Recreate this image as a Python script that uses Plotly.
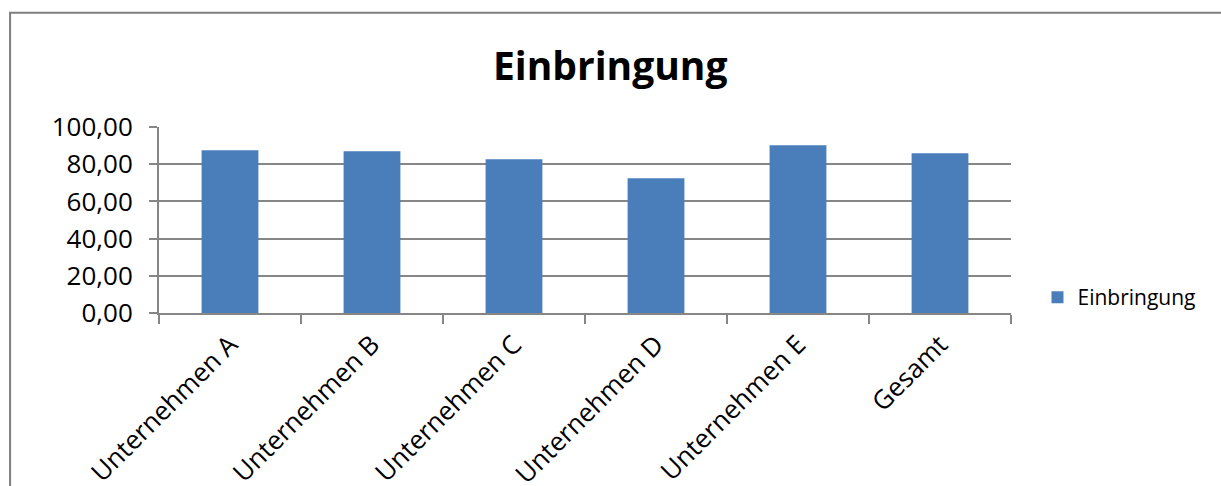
import plotly.graph_objects as go

categories = ["Unternehmen A", "Unternehmen B", "Unternehmen C", "Unternehmen D", "Unternehmen E", "Gesamt"]
values = [87.5, 87.0, 82.7, 72.5, 90.2, 85.9]
series_name = "Einbringung"
title_text = "Einbringung"
y_ticks = [0, 20, 40, 60, 80, 100]

W, H = 1221, 486
L, R, T, B = 159, 1011.5, 127, 313.5

def px_x(px):
    return (px - L) / (R - L)

def px_y(py):
    return (B - py) / (B - T)

fig = go.Figure()
fig.add_trace(go.Bar(
    x=categories, y=values, name=series_name,
    marker=dict(color="#4a7ebb", line=dict(width=0)),
    showlegend=True,
))

fig.update_layout(
    width=W, height=H,
    margin=dict(l=L, r=W - R, t=T, b=H - B, pad=0, autoexpand=False),
    paper_bgcolor="white", plot_bgcolor="white",
    separators=",.",
    bargap=0.6,
    font=dict(family="Open Sans", color="black"),
    title=dict(text="<b>" + title_text + "</b>", font=dict(size=39, family="Open Sans", color="black"),
               x=px_x(610.5), xref="paper", xanchor="center",
               y=1 - 66 / H, yref="container", yanchor="middle"),
    legend=dict(x=px_x(1038), y=px_y(298), xanchor="left", yanchor="middle",
                font=dict(size=21, family="Open Sans"), bgcolor="rgba(0,0,0,0)"),
    xaxis=dict(
        showline=True, linecolor="#868686", linewidth=2,
        ticks="outside", ticklen=9, tickcolor="#868686", tickwidth=2,
        tickson="boundaries", tickangle=-45,
        tickfont=dict(size=26, family="Open Sans", color="black"),
        ticklabelstandoff=4,
        showgrid=False, fixedrange=True, automargin=False,
    ),
    yaxis=dict(
        range=[0, 100], tickvals=y_ticks, tickformat=".2f",
        showline=True, linecolor="#868686", linewidth=2,
        ticks="outside", ticklen=8, tickcolor="#868686", tickwidth=2,
        showgrid=True, gridcolor="#868686", gridwidth=1.5,
        zeroline=False,
        tickfont=dict(size=26, family="Open Sans", color="black"),
        ticklabelstandoff=11, fixedrange=True, automargin=False,
    ),
    shapes=[dict(type="rect", xref="paper", yref="paper",
                 x0=px_x(10), x1=px_x(1230), y0=px_y(500), y1=px_y(12.5),
                 line=dict(color="#7f7f7f", width=2), fillcolor="rgba(0,0,0,0)", layer="below")],
)

fig.write_html("out.html", config={"displayModeBar": False},
               post_script="document.body.style.margin='0';document.body.style.overflow='hidden';")
